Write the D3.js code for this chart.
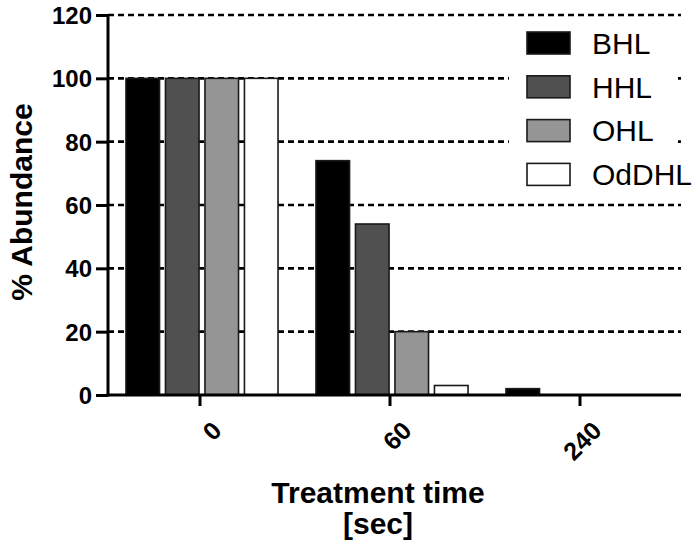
<!DOCTYPE html>
<html>
<head>
<meta charset="utf-8">
<script src="https://cdn.jsdelivr.net/npm/d3@7"></script>
<style>
  body { margin: 0; background: #fff; }
  svg { display: block; font-family: Arial, "Liberation Sans", sans-serif; }
</style>
</head>
<body>
<svg id="chart"></svg>
<script>
// Chart size
const WIDTH = 700;
const HEIGHT = 552;

// Data
const times = ["0", "60", "240"];
const compounds = ["BHL", "HHL", "OHL", "OdDHL"];
const bhl = [100, 74, 2];
const hhl = [100, 54, 0];
const ohl = [100, 20, 0];
const oddhl = [100, 3, 0];
const yTicks = [0, 20, 40, 60, 80, 100, 120];

const fills = { BHL: "#000000", HHL: "#505050", OHL: "#959595", OdDHL: "#ffffff" };
const seriesValues = { BHL: bhl, HHL: hhl, OHL: ohl, OdDHL: oddhl };

const svg = d3.select("#chart")
    .attr("width", WIDTH)
    .attr("height", HEIGHT);

// Scales
const x0 = d3.scaleBand().domain(times).range([105, 675]).paddingInner(0).paddingOuter(0);
const x1 = d3.scaleBand().domain(compounds).range([19, 175]).paddingInner(0.15).paddingOuter(0.05);
const y = d3.scaleLinear().domain([0, 120]).range([395, 15]);

const AXIS_X = 108;
const AXIS_END = 681;

// Dashed grid lines (behind bars)
svg.append("g")
    .selectAll("line")
    .data(yTicks.filter(d => d > 0))
    .join("line")
    .attr("x1", AXIS_X)
    .attr("x2", AXIS_END)
    .attr("y1", d => y(d))
    .attr("y2", d => y(d))
    .attr("stroke", "#000")
    .attr("stroke-width", 2.6)
    .attr("stroke-dasharray", "6,4");

// Bars
const groups = svg.append("g")
    .selectAll("g")
    .data(times)
    .join("g")
    .attr("transform", d => `translate(${x0(d)},0)`);

groups.selectAll("rect")
    .data((t, i) => compounds.map(c => ({ key: c, value: seriesValues[c][i] })))
    .join("rect")
    .filter(d => d.value > 0)
    .attr("x", d => x1(d.key))
    .attr("width", x1.bandwidth())
    .attr("y", d => y(d.value))
    .attr("height", d => y(0) - y(d.value))
    .attr("fill", d => fills[d.key])
    .attr("stroke", "#1a1a1a")
    .attr("stroke-width", 1.6);

// Y axis
const yAxis = svg.append("g")
    .attr("transform", `translate(${AXIS_X},0)`)
    .call(d3.axisLeft(y).tickValues(yTicks).tickSize(12).tickPadding(4));
yAxis.select(".domain").attr("stroke-width", 3).attr("d", `M0,${y(120)}V${y(0) + 1.5}`);
yAxis.selectAll(".tick line").attr("stroke-width", 3);
yAxis.selectAll(".tick text")
    .attr("font-size", 24)
    .attr("font-weight", "bold")
    .attr("fill", "#000")
    .attr("dy", "0.36em");

// X axis
const xAxis = svg.append("g")
    .attr("transform", `translate(0,${y(0)})`)
    .call(d3.axisBottom(x0).tickSize(11).tickPadding(6));
xAxis.select(".domain").attr("stroke-width", 3).attr("d", `M${AXIS_X - 1.5},0H${AXIS_END}`);
xAxis.selectAll(".tick line").attr("stroke-width", 3);
xAxis.selectAll(".tick text")
    .attr("font-size", 25)
    .attr("font-weight", "bold")
    .attr("fill", "#000")
    .attr("text-anchor", "end")
    .attr("transform", "translate(5,19) rotate(-45)")
    .attr("dy", "0.35em");

// Axis titles
svg.append("text")
    .attr("transform", `translate(32,202) rotate(-90)`)
    .attr("text-anchor", "middle")
    .attr("font-size", 30)
    .attr("font-weight", "bold")
    .text("% Abundance");

svg.append("text")
    .attr("x", 378)
    .attr("y", 503)
    .attr("text-anchor", "middle")
    .attr("font-size", 30)
    .attr("font-weight", "bold")
    .text("Treatment time");

svg.append("text")
    .attr("x", 378)
    .attr("y", 534)
    .attr("text-anchor", "middle")
    .attr("font-size", 30)
    .attr("font-weight", "bold")
    .text("[sec]");

// Legend
const legend = svg.append("g").attr("transform", "translate(527,32)");
legend.append("rect")
    .attr("x", -18)
    .attr("y", -8)
    .attr("width", 168)
    .attr("height", 170)
    .attr("fill", "#fff");

const items = legend.selectAll("g")
    .data(compounds)
    .join("g")
    .attr("transform", (d, i) => `translate(0,${i * 43.8})`);

items.append("rect")
    .attr("width", 43)
    .attr("height", 22)
    .attr("fill", d => fills[d])
    .attr("stroke", "#1a1a1a")
    .attr("stroke-width", 1.6);

items.append("text")
    .attr("x", 65)
    .attr("y", 11)
    .attr("dy", "0.36em")
    .attr("font-size", 30)
    .text(d => d);
</script>
</body>
</html>
